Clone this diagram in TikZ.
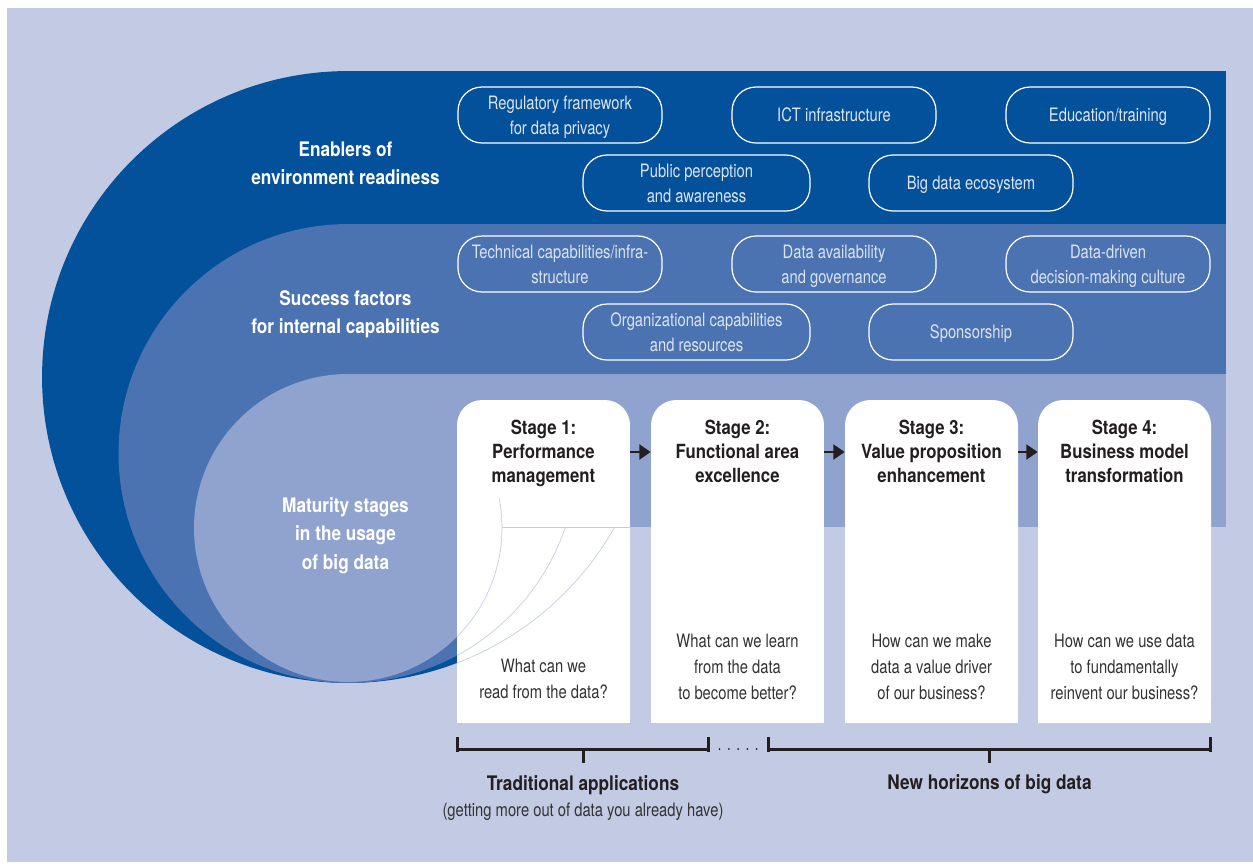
\documentclass[tikz,border=0pt]{standalone}
\usepackage{fontspec}
\newfontfamily\rg{TeX Gyre Heros}[FakeStretch=0.80]
\newfontfamily\bd{TeX Gyre Heros}[FakeStretch=0.86]
\usetikzlibrary{arrows.meta}
\definecolor{bgc}{HTML}{C3CAE3}
\definecolor{darkb}{HTML}{03519B}
\definecolor{medb}{HTML}{4B73B1}
\definecolor{lightb}{HTML}{8FA3CE}
\definecolor{boxtxt}{HTML}{DCE3F1}
\definecolor{dk}{HTML}{231F20}
\definecolor{qc}{HTML}{333333}
\definecolor{faint}{HTML}{C6CEE7}
\tikzset{
  pill/.style={draw=white, line width=0.7pt, rounded corners=0.48cm, minimum width=4.08cm, minimum height=1.12cm, inner sep=0pt},
  pillw/.style={pill, minimum width=4.54cm},
  btxt/.style={text=boxtxt, font=\rg\fontsize{10.5}{12}\selectfont, anchor=base, inner sep=0pt},
  ltxt/.style={text=white, font=\bd\bfseries\fontsize{11.4}{13}\selectfont, anchor=base, inner sep=0pt},
  stitle/.style={text=dk, font=\bd\bfseries\fontsize{11.1}{13}\selectfont, anchor=base, inner sep=0pt},
  qtxt/.style={text=qc, font=\rg\fontsize{10.5}{12}\selectfont, anchor=base, inner sep=0pt},
  btitle/.style={text=dk, font=\bd\bfseries\fontsize{11.4}{13}\selectfont, anchor=base, inner sep=0pt},
  stagebox/.style={fill=white, draw=none, rounded corners=0.5cm, minimum width=3.46cm, minimum height=6.46cm, inner sep=0pt},
  arr/.style={draw=dk, line width=1.6pt, -{Triangle[length=6.5pt,width=8.5pt]}},
  brk/.style={draw=dk, line width=1.7pt},
  faintline/.style={draw=faint, line width=0.4pt}
}
\begin{document}
\begin{tikzpicture}[x=0.02cm,y=-0.02cm]
\useasboundingbox (0,0) rectangle (1253,863);
\fill[white] (0,0) rectangle (1253,863);
\fill[bgc] (7,8) rectangle (1253,862);
% bands
\fill[darkb] (348,377) circle[radius=6.12cm];
\fill[darkb] (348,71) rectangle (1226,224);
\fill[medb] (348,453.5) circle[radius=4.59cm];
\fill[medb] (348,224) rectangle (1226,374);
\fill[lightb] (348,528) circle[radius=3.08cm];
\fill[lightb] (348,374) rectangle (1226,527);
% band labels
\node[ltxt] (e1) at (345.5,156) {Enablers of};
\node[ltxt] (e2) at (345.5,184.3) {environment readiness};
\node[ltxt] (f1) at (345.5,305) {Success factors};
\node[ltxt] (f2) at (345.5,333.3) {for internal capabilities};
\node[ltxt] (m1) at (345.5,512) {Maturity stages};
\node[ltxt] (m2) at (345.5,540.7) {in the usage};
\node[ltxt] (m3) at (345.5,569.3) {of big data};
% enablers
\node[pill] (A) at (560,115) {};
\node[btxt] (A1) at (560,109) {Regulatory framework};
\node[btxt] (A2) at (560,134.5) {for data privacy};
\node[pill] (B) at (834,115) {};
\node[btxt] (B1) at (834,121.7) {ICT infrastructure};
\node[pill] (C) at (1108,115) {};
\node[btxt] (C1) at (1108,121.7) {Education/training};
\node[pillw] (D) at (696.5,183) {};
\node[btxt] (D1) at (696.5,177) {Public perception};
\node[btxt] (D2) at (696.5,202.5) {and awareness};
\node[pill] (E) at (971,183) {};
\node[btxt] (E1) at (971,189.7) {Big data ecosystem};
% success factors
\node[pill] (F) at (560,264) {};
\node[btxt] (F1) at (560,258) {Technical capabilities/infra-};
\node[btxt] (F2) at (560,283.5) {structure};
\node[pill] (G) at (834,264) {};
\node[btxt] (G1) at (834,258) {Data availability};
\node[btxt] (G2) at (834,283.5) {and governance};
\node[pill] (H) at (1108,264) {};
\node[btxt] (H1) at (1108,258) {Data-driven};
\node[btxt] (H2) at (1108,283.5) {decision-making culture};
\node[pillw] (I) at (696.5,332) {};
\node[btxt] (I1) at (696.5,326) {Organizational capabilities};
\node[btxt] (I2) at (696.5,351.5) {and resources};
\node[pill] (J) at (971,332) {};
\node[btxt] (J1) at (971,338.7) {Sponsorship};
% stage boxes
\node[stagebox] (s1) at (543.5,561.5) {};
\node[stagebox] (s2) at (737.5,561.5) {};
\node[stagebox] (s3) at (931.5,561.5) {};
\node[stagebox] (s4) at (1124.5,561.5) {};
\fill[white] (457,560) rectangle (630,723);
\fill[white] (651,560) rectangle (824,723);
\fill[white] (845,560) rectangle (1018,723);
\fill[white] (1038,560) rectangle (1211,723);
% faint circle traces in stage 1
\begin{scope}
\clip (457,498) rectangle (630,723);
\draw[faintline] (348,528) circle[radius=3.08cm];
\end{scope}
\begin{scope}
\clip (457,527) rectangle (630,723);
\draw[faintline] (348,453.5) circle[radius=4.59cm];
\draw[faintline] (348,377) circle[radius=6.12cm];
\end{scope}
\coordinate (fl1) at (502,527);
\coordinate (fl2) at (630,527);
\draw[faintline] (fl1) -- (fl2);
% arrows
\draw[arr] (s1.east |- 0,452) -- (s2.west |- 0,452);
\draw[arr] (s2.east |- 0,452) -- (s3.west |- 0,452);
\draw[arr] (s3.east |- 0,452) -- (s4.west |- 0,452);
% stage titles
\node[stitle] (t11) at (543.5,434) {Stage 1:};
\node[stitle] (t12) at (543.5,458) {Performance};
\node[stitle] (t13) at (543.5,482) {management};
\node[stitle] (t21) at (737.5,434) {Stage 2:};
\node[stitle] (t22) at (737.5,458) {Functional area};
\node[stitle] (t23) at (737.5,482) {excellence};
\node[stitle] (t31) at (931.5,434) {Stage 3:};
\node[stitle] (t32) at (931.5,458) {Value proposition};
\node[stitle] (t33) at (931.5,482) {enhancement};
\node[stitle] (t41) at (1124.5,434) {Stage 4:};
\node[stitle] (t42) at (1124.5,458) {Business model};
\node[stitle] (t43) at (1124.5,482) {transformation};
% questions
\node[qtxt] (q11) at (543.5,672.7) {What can we};
\node[qtxt] (q12) at (543.5,698.5) {read from the data?};
\node[qtxt] (q21) at (737.5,647.5) {What can we learn};
\node[qtxt] (q22) at (737.5,673) {from the data};
\node[qtxt] (q23) at (737.5,699) {to become better?};
\node[qtxt] (q31) at (931.5,647.5) {How can we make};
\node[qtxt] (q32) at (931.5,673) {data a value driver};
\node[qtxt] (q33) at (931.5,699) {of our business?};
\node[qtxt] (q41) at (1124.5,647.5) {How can we use data};
\node[qtxt] (q42) at (1124.5,673) {to fundamentally};
\node[qtxt] (q43) at (1124.5,699) {reinvent our business?};
% brackets
\coordinate (b1l) at (457,749);
\coordinate (b1r) at (708,749);
\coordinate (b1m) at (583,749);
\coordinate (b2l) at (768,749);
\coordinate (b2r) at (1210,749);
\coordinate (b2m) at (989,749);
\draw[brk] (b1l) -- (b1r);
\draw[brk] (b2l) -- (b2r);
\draw[brk] ([yshift=0.24cm]b1l) -- ([yshift=-0.05cm]b1l);
\draw[brk] ([yshift=0.24cm]b1r) -- ([yshift=-0.05cm]b1r);
\draw[brk] ([yshift=0.24cm]b2l) -- ([yshift=-0.05cm]b2l);
\draw[brk] ([yshift=0.24cm]b2r) -- ([yshift=-0.05cm]b2r);
\draw[brk] (b1m) -- ([yshift=-0.28cm]b1m);
\draw[brk] (b2m) -- ([yshift=-0.28cm]b2m);
\foreach \dx in {719.5,728.8,738.1,747.4,756.7}{
  \fill[dk] (\dx,749) circle[radius=0.02cm];
}
\node[btitle] (l1) at (583,790) {Traditional applications};
\node[qtxt] (l2) at (583,816.5) {(getting more out of data you already have)};
\node[btitle] (l3) at (989.5,789) {New horizons of big data};
\end{tikzpicture}
\end{document}
